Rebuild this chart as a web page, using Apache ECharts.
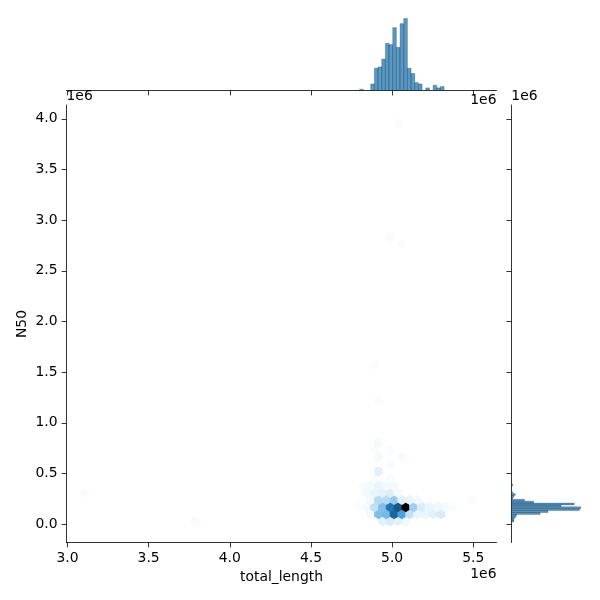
<!DOCTYPE html>
<html><head><meta charset="utf-8">
<script src="https://cdn.jsdelivr.net/npm/echarts@6/dist/echarts.min.js"></script>
<style>html,body{margin:0;padding:0;background:#fff}#c{width:600px;height:600px}</style>
</head><body><div id="c"></div>
<script>
// ---- data ----
const xTicks = [3.0e6, 3.5e6, 4.0e6, 4.5e6, 5.0e6, 5.5e6];
const yTicks = [0, 0.5e6, 1.0e6, 1.5e6, 2.0e6, 2.5e6, 3.0e6, 3.5e6, 4.0e6];
const xLabel = 'total_length';
const yLabel = 'N50';
// hexbin cell size (data units): width and vertical period
const hexW = 0.0482e6;
const hexSy = 0.1402e6;
// hex cells: [total_length centre, N50 centre, count]
const hexCells = [
  [3.783e6,0.030e6,2],[4.940e6,0.030e6,6],[4.988e6,0.030e6,8],[5.036e6,0.030e6,6],[5.084e6,0.030e6,3],
  [4.867e6,0.100e6,3],[4.916e6,0.100e6,24],[4.964e6,0.100e6,26],[5.012e6,0.100e6,52],[5.060e6,0.100e6,34],
  [5.108e6,0.100e6,12],[5.156e6,0.100e6,5],[5.205e6,0.100e6,5],[5.253e6,0.100e6,6],[5.301e6,0.100e6,8],
  [4.795e6,0.170e6,2],[4.843e6,0.170e6,3],[4.891e6,0.170e6,12],[4.940e6,0.170e6,24],[4.988e6,0.170e6,48],
  [5.036e6,0.170e6,56],[5.084e6,0.170e6,80],[5.132e6,0.170e6,18],[5.180e6,0.170e6,8],[5.229e6,0.170e6,5],
  [5.277e6,0.170e6,4],[5.325e6,0.170e6,3],[5.373e6,0.170e6,2],
  [4.867e6,0.240e6,3],[4.916e6,0.240e6,14],[4.964e6,0.240e6,14],[5.012e6,0.240e6,20],[5.060e6,0.240e6,6],
  [5.108e6,0.240e6,5],[5.156e6,0.240e6,3],[5.494e6,0.240e6,2],
  [3.108e6,0.310e6,2],[4.843e6,0.310e6,3],[4.891e6,0.310e6,5],[4.940e6,0.310e6,6],[4.988e6,0.310e6,7],[5.036e6,0.310e6,3],
  [4.819e6,0.380e6,2],[4.867e6,0.380e6,3],[4.916e6,0.380e6,5],[4.964e6,0.380e6,3],[5.012e6,0.380e6,3],
  [4.891e6,0.450e6,2],[4.988e6,0.450e6,2],
  [4.916e6,0.521e6,6],
  [4.988e6,0.591e6,2],
  [4.916e6,0.661e6,3],[5.060e6,0.661e6,2],
  [4.891e6,0.731e6,2],[4.988e6,0.731e6,2],
  [4.916e6,0.801e6,3],
  [4.916e6,1.222e6,2],
  [4.891e6,1.572e6,2],
  [5.060e6,2.764e6,2],
  [4.988e6,2.834e6,2],
  [5.036e6,3.955e6,2]
];
// top marginal histogram of total_length
const topBinStart = 4.8003e6;
const topBinWidth = 0.0226e6;
const topCounts = [1,0,0,5,17,18,24,36,35,48,33,51,55,17,13,6,5,0,2,0,4,2,3];
// right marginal histogram of N50
const rightBinStart = 0.0217e6;
const rightBinWidth = 0.0187e6;
const rightCounts = [2,2,3,4,22,28,52,53,38,48,17,10,1,2,3,1,0,0,0,1];

// ---- colour map (seaborn hex cmap from C0) ----
function rgb2hls(r,g,b){const mx=Math.max(r,g,b),mn=Math.min(r,g,b);const l=(mx+mn)/2;if(mx===mn)return[0,l,0];const d=mx-mn;const s=l<=0.5?d/(mx+mn):d/(2-mx-mn);const rc=(mx-r)/d,gc=(mx-g)/d,bc=(mx-b)/d;let h;if(r===mx)h=bc-gc;else if(g===mx)h=2+rc-bc;else h=4+gc-rc;h=((h/6)%1+1)%1;return[h,l,s];}
function hls2rgb(h,l,s){if(s===0)return[l,l,l];const m2=l<=0.5?l*(1+s):l+s-l*s;const m1=2*l-m2;const v=hue=>{hue=((hue%1)+1)%1;if(hue<1/6)return m1+(m2-m1)*hue*6;if(hue<0.5)return m2;if(hue<2/3)return m1+(m2-m1)*(2/3-hue)*6;return m1;};return[v(h+1/3),v(h),v(h-1/3)];}
const baseHLS = rgb2hls(31/255,119/255,180/255);
const stops = [];
for(let i=0;i<12;i++){stops.push(hls2rgb(baseHLS[0],1-i/11,baseHLS[2]));}
function cmap(t){t=Math.max(0,Math.min(1,t));const p=t*11;const i=Math.min(10,Math.floor(p));const f=p-i;const a=stops[i],b=stops[i+1];const c=[0,1,2].map(k=>Math.round(255*(a[k]+(b[k]-a[k])*f)));return 'rgb('+c.join(',')+')';}
const vMin = 1;
const vMax = Math.max(...hexCells.map(d=>d[2]));

const topData = topCounts.map((c,i)=>[topBinStart+i*topBinWidth, topBinStart+(i+1)*topBinWidth, c]).filter(d=>d[2]>0);
const rightData = rightCounts.map((c,i)=>[rightBinStart+i*rightBinWidth, rightBinStart+(i+1)*rightBinWidth, c]).filter(d=>d[2]>0);

const FONT = 'DejaVu Sans';
const FS = 13.9;
const axisLineStyle = {color:'#000', width:0.8};
const X_MIN = 2.994e6, X_MAX = 5.643e6;
const Y_MIN = -0.1806e6, Y_MAX = 4.136e6;
const C_MAX = 66.8;
const fmt = v => (v/1e6).toFixed(1);

const chart = echarts.init(document.getElementById('c'), null, {renderer:'canvas'});
chart.setOption({
  animation:false,
  backgroundColor:'#fff',
  textStyle:{fontFamily:FONT},
  grid:[
    {left:66.5, top:105, width:430, height:437.5},
    {left:66.5, top:3, width:430, height:87.5},
    {left:511.3, top:105, width:87.5, height:437.5}
  ],
  xAxis:[
    {type:'value', gridIndex:0, min:X_MIN, max:X_MAX, position:'bottom',
     axisLine:{show:true,onZero:false,lineStyle:axisLineStyle},
     axisTick:{show:true,inside:false,length:4.9,customValues:xTicks,lineStyle:axisLineStyle},
     axisLabel:{show:true,customValues:xTicks,formatter:fmt,margin:9,color:'#000',fontSize:FS,fontFamily:FONT},
     splitLine:{show:false},
     name:xLabel, nameLocation:'middle', nameGap:27, nameTextStyle:{color:'#000',fontSize:FS,fontFamily:FONT}},
    {type:'value', gridIndex:1, min:X_MIN, max:X_MAX, position:'bottom',
     axisLine:{show:true,onZero:false,lineStyle:axisLineStyle},
     axisTick:{show:true,inside:false,length:4.9,customValues:xTicks,lineStyle:axisLineStyle},
     axisLabel:{show:false}, splitLine:{show:false}},
    {type:'value', gridIndex:2, min:0, max:C_MAX, show:false, splitLine:{show:false}}
  ],
  yAxis:[
    {type:'value', gridIndex:0, min:Y_MIN, max:Y_MAX, position:'left',
     axisLine:{show:true,onZero:false,lineStyle:axisLineStyle},
     axisTick:{show:true,inside:false,length:4.9,customValues:yTicks,lineStyle:axisLineStyle},
     axisLabel:{show:true,customValues:yTicks,formatter:fmt,margin:9,color:'#000',fontSize:FS,fontFamily:FONT},
     splitLine:{show:false}},
    {type:'value', gridIndex:1, min:0, max:C_MAX, show:false, splitLine:{show:false}},
    {type:'value', gridIndex:2, min:Y_MIN, max:Y_MAX, position:'left',
     axisLine:{show:true,onZero:false,lineStyle:axisLineStyle},
     axisTick:{show:true,inside:false,length:4.9,customValues:yTicks,lineStyle:axisLineStyle},
     axisLabel:{show:false}, splitLine:{show:false}}
  ],
  series:[
    {type:'custom', xAxisIndex:0, yAxisIndex:0, data:hexCells, clip:true,
     renderItem:(params, api)=>{
       const c = api.coord([api.value(0), api.value(1)]);
       const s = api.size([hexW, hexSy]);
       const hw = s[0]/2, q = s[1]/3;
       const pts = [[c[0]+hw,c[1]+q/2],[c[0]+hw,c[1]-q/2],[c[0],c[1]-q],[c[0]-hw,c[1]-q/2],[c[0]-hw,c[1]+q/2],[c[0],c[1]+q]];
       const col = cmap((api.value(2)-vMin)/(vMax-vMin));
       return {type:'polygon', shape:{points:pts}, style:{fill:col, stroke:col, lineWidth:0.8}};
     }},
    {type:'custom', xAxisIndex:1, yAxisIndex:1, data:topData,
     renderItem:(params, api)=>{
       const p0 = api.coord([api.value(0), api.value(2)]);
       const p1 = api.coord([api.value(1), 0]);
       return {type:'rect', shape:{x:p0[0], y:p0[1], width:p1[0]-p0[0], height:p1[1]-p0[1]},
               style:{fill:'rgba(31,119,180,0.75)', stroke:'rgba(0,0,0,0.45)', lineWidth:0.5}};
     }},
    {type:'custom', xAxisIndex:2, yAxisIndex:2, data:rightData,
     renderItem:(params, api)=>{
       const p0 = api.coord([0, api.value(1)]);
       const p1 = api.coord([api.value(2), api.value(0)]);
       return {type:'rect', shape:{x:p0[0], y:p0[1], width:p1[0]-p0[0], height:p1[1]-p0[1]},
               style:{fill:'rgba(31,119,180,0.75)', stroke:'rgba(0,0,0,0.45)', lineWidth:0.5}};
     }}
  ],
  graphic:[
    {type:'text', x:22, y:324, rotation:Math.PI/2, style:{text:yLabel, fill:'#000', font:FS+'px '+FONT, align:'center', verticalAlign:'middle'}},
    {type:'text', left:66.5, top:89, style:{text:'1e6', fill:'#000', font:FS+'px '+FONT}},
    {type:'text', right:600-496.5, top:567, style:{text:'1e6', fill:'#000', font:FS+'px '+FONT}},
    {type:'text', right:600-496.5, top:93, style:{text:'1e6', fill:'#000', font:FS+'px '+FONT}},
    {type:'text', left:511.3, top:89, style:{text:'1e6', fill:'#000', font:FS+'px '+FONT}}
  ]
});
</script></body></html>
